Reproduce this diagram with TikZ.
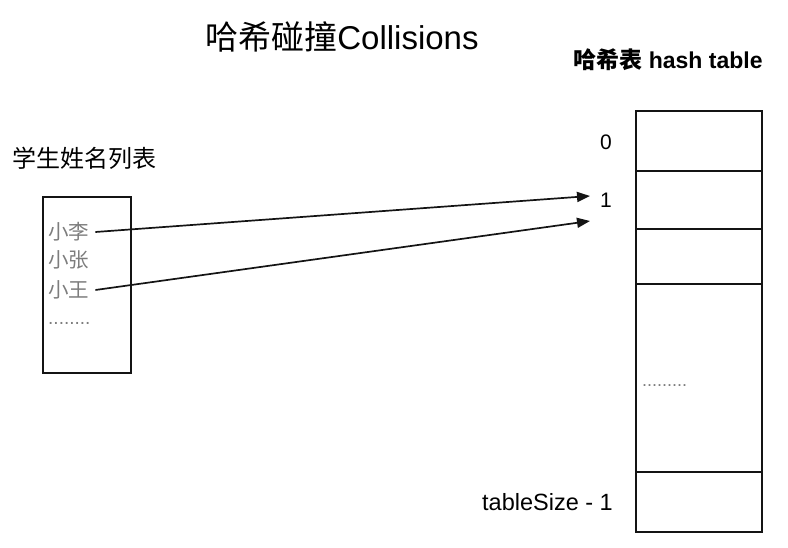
\documentclass[tikz,border=0pt]{standalone}
\usepackage{fontspec}
\setmainfont{Liberation Sans}
\newfontfamily\cjk{Noto Sans CJK SC}
\usepackage{tikz}
\usetikzlibrary{arrows.meta,positioning}
\definecolor{ink}{RGB}{20,20,20}
\definecolor{namegray}{RGB}{125,125,125}
\tikzset{
  cell/.style={draw=ink,line width=1.6pt,minimum width=126pt,inner sep=0pt,outer sep=0pt,anchor=north},
  listbox/.style={draw=ink,line width=1.6pt,minimum width=88pt,minimum height=176pt,inner sep=0pt,anchor=north west},
  sname/.style={font=\cjk\fontsize{20.5}{20.5}\selectfont,text=namegray,anchor=west,inner sep=0pt},
  dotline/.style={font=\fontsize{19}{19}\selectfont,text=namegray,anchor=base west,inner sep=0pt},
  idx/.style={font=\fontsize{21}{21}\selectfont,inner sep=0pt},
  arr/.style={-{Triangle[length=13pt,width=10pt]},draw=ink,line width=1.7pt}
}
\begin{document}
\begin{tikzpicture}[x=1pt,y=-1pt]
\useasboundingbox (0,0) rectangle (788,548);
% titles
\node[font=\fontsize{33}{33}\selectfont] (title) at (342,37) {{\cjk 哈希碰撞}Collisions};
\node[font=\bfseries\fontsize{23}{23}\selectfont] (tabtitle) at (668,60) {{\cjk\bfseries 哈希表} hash table};
\node[font=\cjk\fontsize{24}{24}\selectfont,anchor=west,inner sep=0pt] (listtitle) at (12,158) {学生姓名列表};
% student list
\node[listbox] (list) at (42,196) {};
\node[sname] (li) at (48,232) {小李};
\node[sname] (zhang) at (48,260) {小张};
\node[sname] (wang) at (48,290) {小王};
\node[dotline] (ldots) at (48,325) {........};
% hash table
\node[cell,minimum height=60pt] (r0) at (699,111) {};
\node[cell,minimum height=58pt,below=0pt of r0] (r1) {};
\node[cell,minimum height=55pt,below=0pt of r1] (r2) {};
\node[cell,minimum height=188pt,below=0pt of r2] (rmid) {};
\node[cell,minimum height=60pt,below=0pt of rmid] (rlast) {};
\node[dotline,font=\fontsize{18}{18}\selectfont] (tdots) at (642,386) {.........};
% indices
\node[idx] (i0) at (606,142) {0};
\node[idx] (i1) at (606,200) {1};
\node[idx,anchor=east,font=\fontsize{23.5}{23.5}\selectfont] (ilast) at (613,502) {tableSize - 1};
\coordinate (hit1) at (590,196);
\coordinate (hit2) at (590,221);
% collisions
\draw[arr] (li.east) ++(6pt,0) -- (hit1);
\draw[arr] (wang.east) ++(6pt,0) -- (hit2);
\end{tikzpicture}
\end{document}
